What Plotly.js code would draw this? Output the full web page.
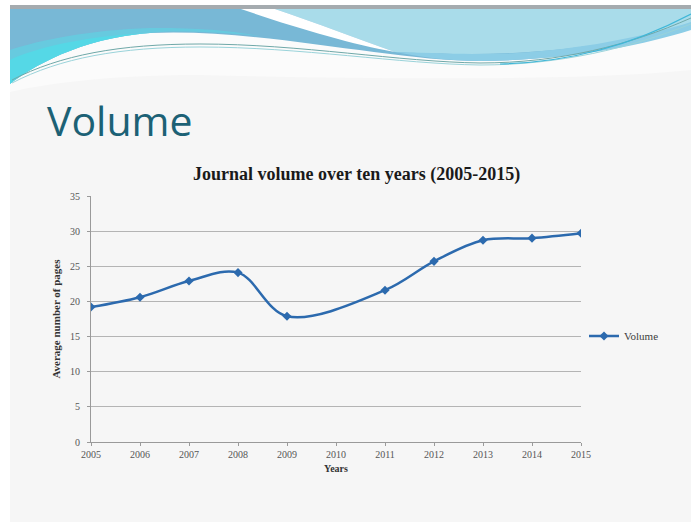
<!DOCTYPE html>
<html>
<head>
<meta charset="utf-8">
<script src="https://cdn.plot.ly/plotly-3.0.1.min.js"></script>
<style>html,body{margin:0;padding:0;background:#fff;}#chart{width:691px;height:525px;}</style>
</head>
<body>
<div id="chart"></div>
<script>
// ---- data ----
const years = [2005, 2006, 2007, 2008, 2009, 2010, 2011, 2012, 2013, 2014, 2015];
const volume = [19.2, 20.6, 22.9, 24.1, 17.9, null, 21.6, 25.7, 28.7, 29.0, 29.7];
const yTicks = [0, 5, 10, 15, 20, 25, 30, 35];
const seriesName = 'Volume';
const slideTitle = 'Volume';
const chartTitle = 'Journal volume over ten years (2005-2015)';
const xTitle = 'Years';
const yTitle = 'Average number of pages';

// ---- plot-area geometry (pixels) for decorative slide shapes ----
const L = 91, R = 581, T = 196, B = 442;
function P(x, y) { return ((x - L) / (R - L)).toFixed(4) + ',' + ((B - y) / (B - T)).toFixed(4); }
function path(parts) {
  let s = '';
  parts.forEach(p => { s += Array.isArray(p) ? ' ' + P(p[0], p[1]) : ' ' + p; });
  return s.trim();
}
function shp(d, fill, line, lw, op) {
  return {type: 'path', xref: 'paper', yref: 'paper', layer: 'below', path: d,
    fillcolor: fill || 'rgba(0,0,0,0)', opacity: op == null ? 1 : op,
    line: {color: line || 'rgba(0,0,0,0)', width: lw || 0}};
}
const shapes = [
  // slide background
  shp(path(['M', [10, 5], 'L', [691, 5], 'L', [691, 522], 'L', [10, 522], 'Z']), '#f6f6f6'),
  // white wave area
  shp(path(['M', [10, 8], 'L', [691, 8], 'L', [691, 70], 'C', [600, 80], [400, 80], [200, 75], 'C', [100, 75], [40, 85], [10, 92], 'Z']), '#fbfbfb'),
  // main blue header
  shp(path(['M', [10, 8], 'L', [691, 8], 'L', [691, 28], 'C', [640, 45], [570, 60], [480, 61], 'C', [390, 61], [260, 28], [150, 33], 'C', [80, 38], [30, 68], [10, 84], 'Z']), '#78b8d6'),
  // cyan lower-left glow
  shp(path(['M', [10, 50], 'C', [40, 40], [90, 30], [150, 28], 'C', [200, 27], [240, 32], [260, 36], 'C', [200, 30], [160, 31], [150, 33], 'C', [80, 38], [30, 68], [10, 84], 'Z']), '#60d2e2', null, 0, 0.7),
  shp(path(['M', [10, 60], 'C', [30, 50], [80, 36], [150, 33], 'C', [80, 38], [30, 68], [10, 84], 'Z']), '#55d8e6'),
  // light top-right area
  shp(path(['M', [272, 8], 'L', [691, 8], 'L', [691, 24], 'C', [640, 40], [560, 54], [470, 54], 'C', [440, 54], [410, 53], [395, 52], 'C', [360, 40], [320, 24], [272, 8], 'Z']), '#a9dcea'),
  // blue band right
  shp(path(['M', [395, 52], 'C', [430, 53], [460, 54], [480, 54], 'C', [560, 54], [640, 38], [691, 22], 'L', [691, 30], 'C', [640, 46], [570, 60], [480, 61], 'C', [450, 61], [420, 57], [395, 52], 'Z']), '#8ccde6'),
  // white streak
  shp(path(['M', [238, 8], 'L', [272, 8], 'C', [320, 24], [360, 40], [395, 52], 'C', [350, 44], [290, 26], [238, 8], 'Z']), '#ffffff'),
  // thin lines
  shp(path(['M', [12, 80], 'C', [60, 55], [120, 44], [200, 44], 'C', [300, 44], [400, 62], [480, 63], 'C', [560, 63], [630, 45], [691, 18]]), null, '#6fa8a8', 1),
  shp(path(['M', [12, 83], 'C', [60, 58], [120, 47], [200, 47], 'C', [300, 47], [400, 64], [480, 65], 'C', [560, 65], [630, 48], [691, 24]]), null, '#9ad3da', 1),
  shp(path(['M', [500, 64], 'C', [570, 62], [630, 46], [691, 14]]), null, '#3fb7d8', 1.2),
  // top gray strip
  shp(path(['M', [10, 5], 'L', [691, 5], 'L', [691, 9], 'L', [10, 9], 'Z']), '#a5abaf')
];

const serif = '"Liberation Serif", "DejaVu Serif", serif';

const trace = {
  x: years, y: volume, name: seriesName, type: 'scatter', mode: 'lines+markers',
  connectgaps: true,
  line: {color: '#2c6aae', width: 2.5, shape: 'spline', smoothing: 1},
  marker: {symbol: 'diamond', size: 7, color: '#2c6aae'}
};

const layout = {
  width: 691, height: 525,
  margin: {l: L, r: 691 - R, t: T, b: 525 - B, pad: 0},
  paper_bgcolor: '#ffffff', plot_bgcolor: 'rgba(0,0,0,0)',
  showlegend: true,
  legend: {x: (584 - L) / (R - L), y: 0.431, xanchor: 'left', yanchor: 'middle', bgcolor: 'rgba(0,0,0,0)',
    font: {family: serif, size: 11, color: '#404040'}, itemwidth: 30},
  xaxis: {
    range: [2005, 2015], tickvals: years, ticktext: years.map(String),
    showgrid: false, zeroline: false, showline: true, linecolor: '#9a9a9a', linewidth: 1,
    ticks: 'outside', ticklen: 3, tickcolor: '#9a9a9a',
    tickfont: {family: serif, size: 10, color: '#555555'},
    title: {text: '<b>' + xTitle + '</b>', font: {family: serif, size: 10, color: '#333333'}, standoff: 5}
  },
  yaxis: {
    range: [0, 35], tickvals: yTicks, ticktext: yTicks.map(String),
    showgrid: true, gridcolor: '#b4b4b4', gridwidth: 1, zeroline: false,
    showline: true, linecolor: '#9a9a9a', linewidth: 1,
    ticks: 'outside', ticklen: 3, tickcolor: '#9a9a9a', ticklabelstandoff: 5,
    tickfont: {family: serif, size: 10, color: '#555555'},
    title: {text: '<b>' + yTitle + '</b>', font: {family: serif, size: 11, color: '#333333'}, standoff: 7}
  },
  shapes: shapes,
  annotations: [
    {text: slideTitle, xref: 'paper', yref: 'paper', x: (45 - L) / (R - L), y: (B - 120) / (B - T),
     xanchor: 'left', yanchor: 'middle', showarrow: false,
     font: {family: '"Open Sans", sans-serif', size: 41, color: '#1c6175'}},
    {text: '<b>' + chartTitle + '</b>', xref: 'paper', yref: 'paper', x: (356 - L) / (R - L), y: (B - 174) / (B - T),
     xanchor: 'center', yanchor: 'middle', showarrow: false,
     font: {family: serif, size: 18, color: '#1a1a1a'}}
  ]
};

Plotly.newPlot('chart', [trace], layout, {displayModeBar: false, staticPlot: true});
</script>
</body>
</html>
